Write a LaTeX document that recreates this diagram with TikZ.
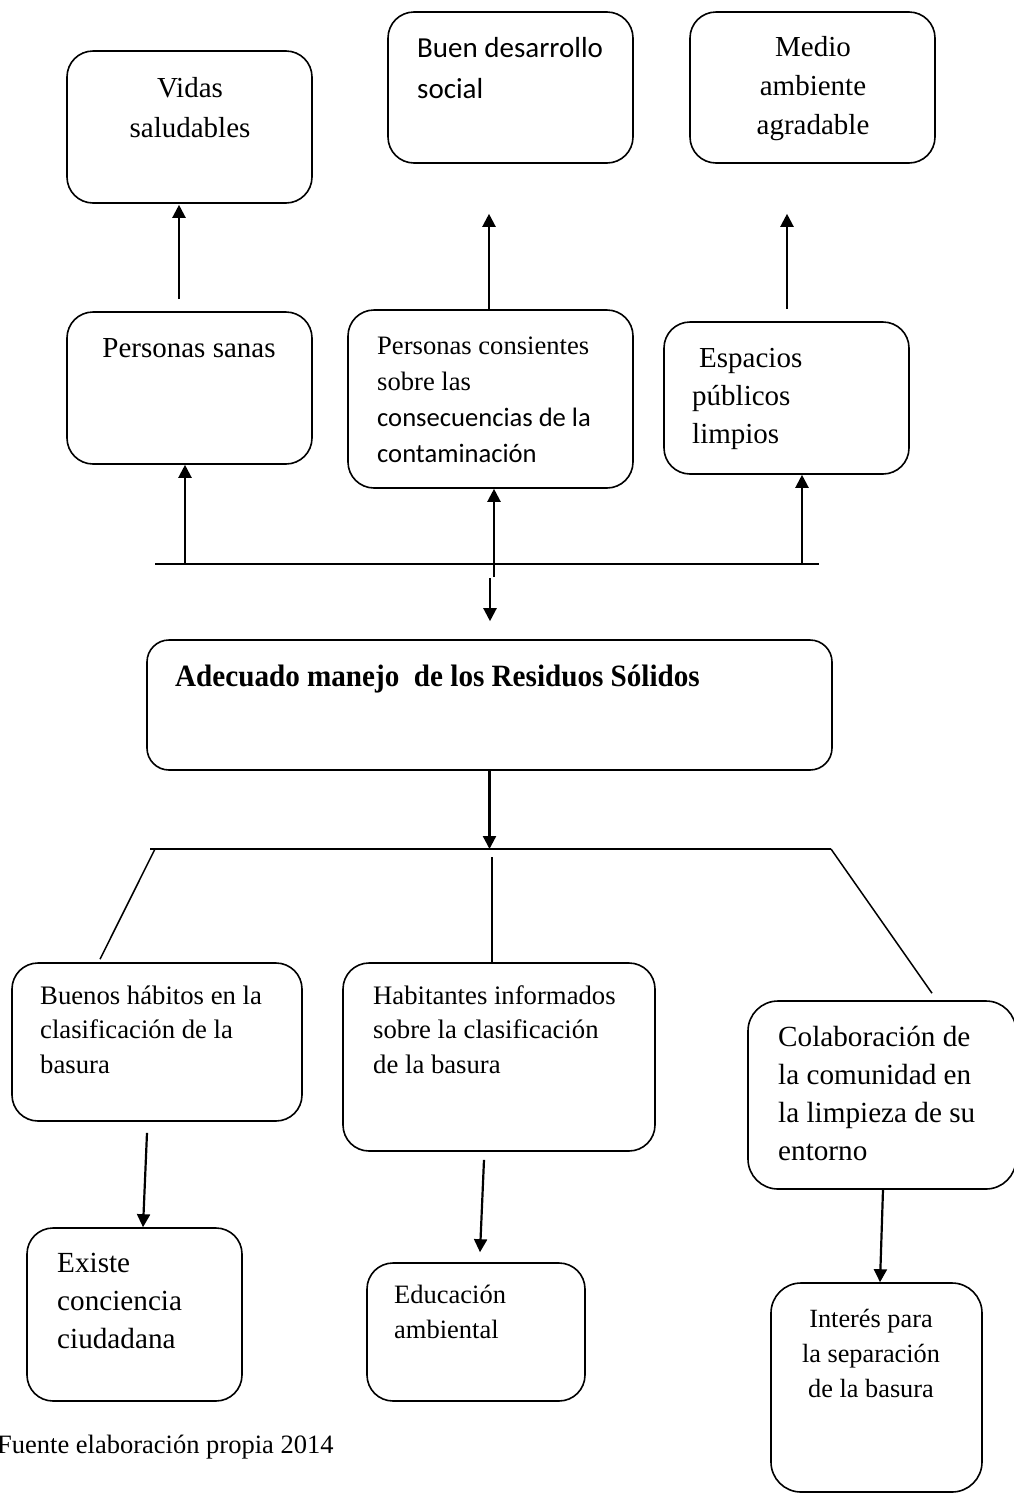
\documentclass[tikz,border=0pt]{standalone}
\usepackage{fontspec}
\setmainfont{Liberation Serif}
\newfontfamily\calib{Carlito}
\usetikzlibrary{arrows.meta}
\tikzset{
  box/.style={draw, line width=1.6pt, rounded corners=26pt, inner sep=0pt},
  arr/.style={line width=2.2pt, -{Triangle[length=13pt,width=13pt]}},
  ln/.style={line width=1.5pt},
  txt/.style={inner sep=0pt, align=left, anchor=base west},
  txtc/.style={inner sep=0pt, align=center, anchor=base},
  fs/.style 2 args={font={\fontsize{#1}{#2}\selectfont}},
  fss/.style 2 args={font={\calib\fontsize{#1}{#2}\selectfont}},
}
\begin{document}
\begin{tikzpicture}[x=1pt,y=-1pt]
\useasboundingbox (0,0) rectangle (1014,1497);
% boxes
\node[box, minimum width=245, minimum height=152] (vidas) at (189.5,127) {};
\node[box, minimum width=245, minimum height=151] (buen) at (510.5,87.5) {};
\node[box, minimum width=245, minimum height=151] (medio) at (812.5,87.5) {};
\node[box, minimum width=245, minimum height=152] (sanas) at (189.5,388) {};
\node[box, minimum width=285, minimum height=178] (consc) at (490.5,399) {};
\node[box, minimum width=245, minimum height=152] (espacios) at (786.5,398) {};
\node[box, rounded corners=22pt, minimum width=685, minimum height=130] (main) at (489.5,705) {};
\node[box, minimum width=290, minimum height=158] (buenos) at (157,1042) {};
\node[box, minimum width=312, minimum height=188] (habit) at (499,1057) {};
\node[box, rounded corners=30pt, minimum width=268, minimum height=188] (colab) at (882,1095) {};
\node[box, minimum width=215, minimum height=173] (existe) at (134.5,1314.5) {};
\node[box, minimum width=218, minimum height=138] (educ) at (476,1332) {};
\node[box, rounded corners=30pt, minimum width=211, minimum height=209] (interes) at (876.5,1387.5) {};
% texts (anchor at baseline of the last line)
\node[txtc, fs={29}{40}] (tvidas) at (190,137) {Vidas\\saludables};
\node[txt, fss={29}{41}] (tbuen) at (417,98) {Buen desarrollo\\social};
\node[txtc, fs={29}{39}] (tmedio) at (813,134) {Medio\\ambiente\\agradable};
\node[txtc, fs={29}{39}] (tsanas) at (189,357) {Personas sanas};
\node[txt, fs={26.6}{36}] (tconsc) at (377,462) {Personas consientes\\sobre las\\{\calib consecuencias de la}\\{\calib contaminación}};
\node[txt, fs={29}{38}] (tesp) at (692,443) {\hspace*{7pt}Espacios\\públicos\\limpios};
\node[txt, fs={31}{38}] (tmain) at (175,686) {\bfseries\scalebox{0.94}[1]{Adecuado manejo\ \ de los Residuos Sólidos}};
\node[txt, fs={26.7}{34.2}] (tbuenos) at (40,1073) {Buenos hábitos en la\\clasificación de la\\basura};
\node[txt, fs={26.7}{34.2}] (thabit) at (373,1073) {Habitantes informados\\sobre la clasificación\\de la basura};
\node[txt, fs={29.2}{37.7}] (tcolab) at (778,1160) {Colaboración de\\la comunidad en\\la limpieza de su\\entorno};
\node[txt, fs={29.2}{38}] (texiste) at (57,1348) {Existe\\conciencia\\ciudadana};
\node[txt, fs={26.5}{35}] (teduc) at (394,1338) {Educación\\ambiental};
\node[txtc, fs={26.3}{35}] (tinter) at (871,1397) {Interés para\\la separación\\de la basura};
\node[txt, fs={26.5}{32}] (tfuente) at (-3,1453) {Fuente elaboración propia 2014};
% bars
\coordinate (barL) at (155,564);
\coordinate (barR) at (819,564);
\coordinate (botL) at (150,849);
\coordinate (botR) at (831,849);
\draw[line width=2.4pt] (barL) -- (barR);
\draw[ln] (botL) -- (botR);
% upper arrows
\draw[arr] ([shift={(-10.5,-12)}]sanas.north) -- ([shift={(-10.5,1)}]vidas.south);
\draw[arr] ([xshift=-1.5pt]consc.north) -- ([shift={(-21.5,50)}]buen.south);
\draw[arr] ([shift={(0.5,-12)}]espacios.north) -- ([shift={(-25.5,50)}]medio.south);
\draw[arr] ([xshift=-4.5pt]barL -| sanas.south) -- ([xshift=-4.5pt]sanas.south);
\draw[arr] ([shift={(3.5,13)}]barL -| consc.south) -- ([xshift=3.5pt]consc.south);
\draw[arr] ([xshift=15.5pt]barL -| espacios.south) -- ([xshift=15.5pt]espacios.south);
\draw[arr] ([shift={(0.5,-61)}]main.north) -- ([shift={(0.5,-18)}]main.north);
\draw[arr] (main.south) -- (main.south |- botL);
% branches
\draw[ln] ([xshift=5pt]botL) -- ([shift={(-57,-3)}]buenos.north);
\draw[ln] ([shift={(-7,-105)}]habit.north) -- ([xshift=-7pt]habit.north);
\draw[ln] (botR) -- ([shift={(50,-7)}]colab.north);
% lower arrows
\draw[arr] ([shift={(-10,11)}]buenos.south) -- ([xshift=8.5pt]existe.north);
\draw[arr] ([shift={(-15,8)}]habit.south) -- ([shift={(4,-10)}]educ.north);
\draw[arr] ([xshift=1pt]colab.south) -- ([xshift=3.5pt]interes.north);
\end{tikzpicture}
\end{document}
